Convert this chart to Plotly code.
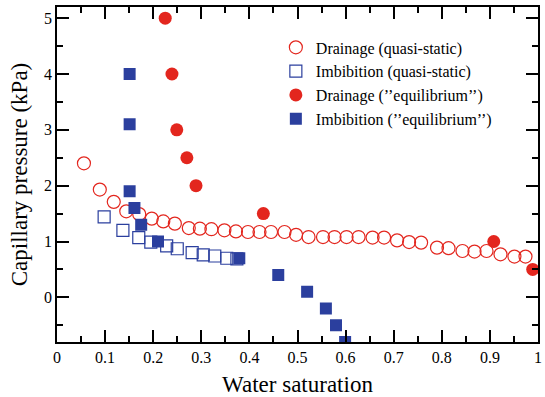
import plotly.graph_objects as go

# Drainage (quasi-static)
dq_x = [0.056, 0.089, 0.118, 0.144, 0.171, 0.197, 0.221, 0.245, 0.274, 0.297, 0.321, 0.348,
        0.372, 0.397, 0.421, 0.445, 0.473, 0.497, 0.523, 0.553, 0.577, 0.602, 0.627, 0.656,
        0.680, 0.707, 0.732, 0.757, 0.790, 0.814, 0.843, 0.868, 0.893, 0.922, 0.951, 0.974]
dq_y = [2.40, 1.93, 1.71, 1.54, 1.49, 1.41, 1.36, 1.32, 1.24, 1.23, 1.22, 1.20,
        1.18, 1.17, 1.17, 1.17, 1.17, 1.12, 1.08, 1.08, 1.08, 1.08, 1.08, 1.07,
        1.07, 1.02, 0.99, 0.98, 0.89, 0.88, 0.83, 0.82, 0.83, 0.77, 0.73, 0.73]

# Imbibition (quasi-static)
iq_x = [0.098, 0.137, 0.170, 0.195, 0.228, 0.250, 0.281, 0.304, 0.328, 0.353, 0.374]
iq_y = [1.44, 1.20, 1.07, 0.99, 0.92, 0.87, 0.80, 0.76, 0.74, 0.70, 0.69]

# Drainage ("equilibrium")
de_x = [0.225, 0.239, 0.249, 0.270, 0.289, 0.429, 0.908, 0.989]
de_y = [5.0, 4.0, 3.0, 2.5, 2.0, 1.5, 1.0, 0.5]

# Imbibition ("equilibrium")
ie_x = [0.151, 0.151, 0.151, 0.161, 0.175, 0.210, 0.379, 0.460, 0.520, 0.559, 0.580, 0.599]
ie_y = [4.0, 3.1, 1.9, 1.6, 1.3, 1.0, 0.7, 0.4, 0.1, -0.2, -0.5, -0.8]

x_ticks = [0, 0.1, 0.2, 0.3, 0.4, 0.5, 0.6, 0.7, 0.8, 0.9, 1]
x_labels = ["0", "0.1", "0.2", "0.3", "0.4", "0.5", "0.6", "0.7", "0.8", "0.9", "1"]
y_ticks = [0, 1, 2, 3, 4, 5]
y_labels = ["0", "1", "2", "3", "4", "5"]

RED = "#e3261e"
BLUE = "#2b3f9e"
FONT = "'Liberation Serif', 'Times New Roman', 'DejaVu Serif', serif"

fig = go.Figure()
fig.add_trace(go.Scatter(x=dq_x, y=dq_y, mode="markers", name="Drainage (quasi-static)",
                         marker=dict(symbol="circle-open", size=13, color=RED, line=dict(width=1.2, color=RED))))
fig.add_trace(go.Scatter(x=iq_x, y=iq_y, mode="markers", name="Imbibition (quasi-static)",
                         marker=dict(symbol="square-open", size=12, color=BLUE, line=dict(width=1.2, color=BLUE))))
fig.add_trace(go.Scatter(x=de_x, y=de_y, mode="markers", name="Drainage (\u2019\u2019equilibrium\u2019\u2019)",
                         marker=dict(symbol="circle", size=13, color=RED)))
fig.add_trace(go.Scatter(x=ie_x, y=ie_y, mode="markers", name="Imbibition (\u2019\u2019equilibrium\u2019\u2019)",
                         marker=dict(symbol="square", size=12, color=BLUE), cliponaxis=True))

axis_common = dict(showline=True, linecolor="black", linewidth=1.5, mirror="ticks",
                   ticks="inside", ticklen=12, tickwidth=1.5, tickcolor="black",
                   showgrid=False, zeroline=False,
                   tickfont=dict(family=FONT, size=16, color="black"))

fig.update_xaxes(range=[0, 1], tickvals=x_ticks, ticktext=x_labels,
                 minor=dict(ticks="inside", ticklen=6, tickwidth=1.5, tickcolor="black", dtick=0.05),
                 title=dict(text="Water saturation", font=dict(family=FONT, size=23, color="black"), standoff=12),
                 **axis_common)
fig.update_yaxes(range=[-0.8, 5.2], tickvals=y_ticks, ticktext=y_labels,
                 minor=dict(ticks="inside", ticklen=6, tickwidth=1.5, tickcolor="black", dtick=0.5),
                 title=dict(text="Capillary pressure (kPa)", font=dict(family=FONT, size=23, color="black"), standoff=10),
                 **axis_common)

fig.update_layout(width=545, height=397, margin=dict(l=57, r=3, t=7, b=54),
                  paper_bgcolor="white", plot_bgcolor="white",
                  font=dict(family=FONT, color="black"),
                  legend=dict(x=0.455, y=0.93, xanchor="left", yanchor="top",
                              font=dict(family=FONT, size=16, color="black"),
                              bgcolor="rgba(0,0,0,0)", tracegroupgap=0))

fig.write_html("out.html")
